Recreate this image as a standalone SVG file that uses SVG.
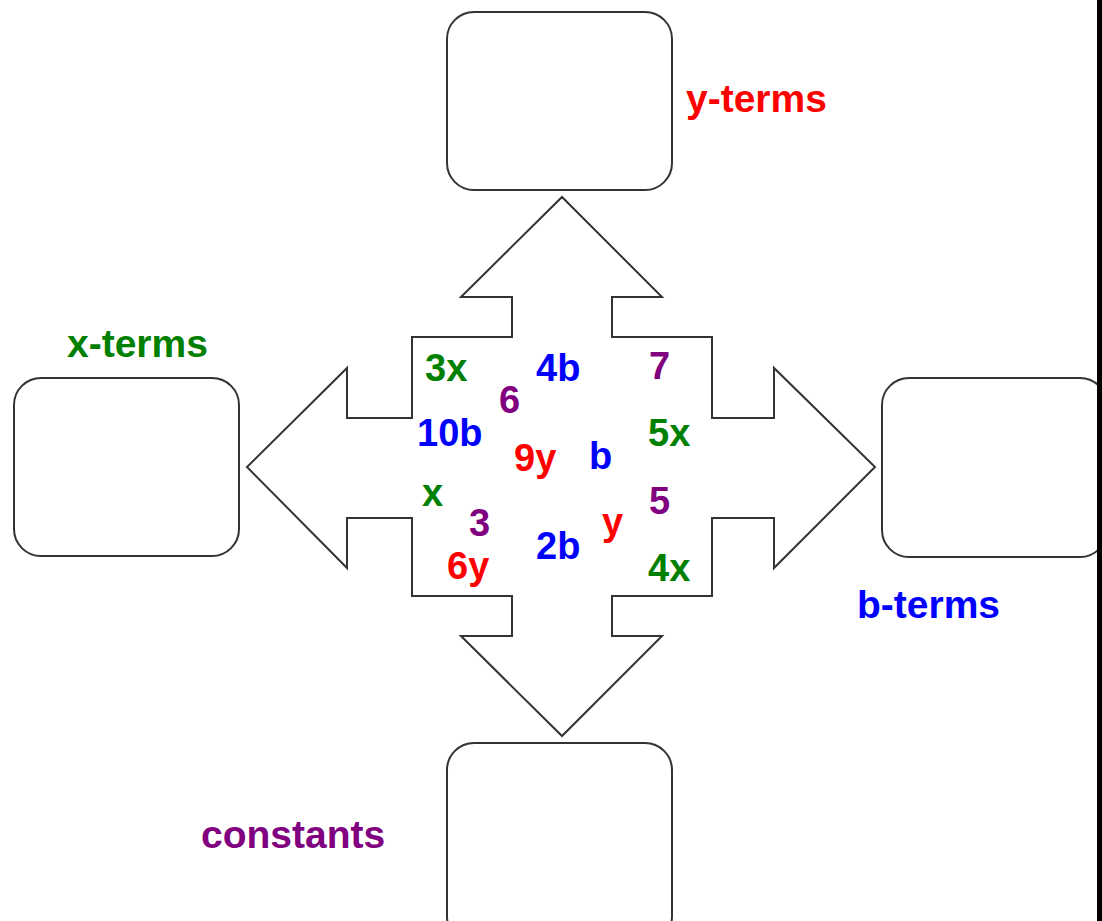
<svg xmlns="http://www.w3.org/2000/svg" width="1102" height="921" viewBox="0 0 1102 921">
<style>
.box{fill:#fff;stroke:#333;stroke-width:2}
.arrow{fill:#fff;stroke:#333;stroke-width:2;stroke-linejoin:miter}
text{font-family:"Liberation Sans",Arial,sans-serif;font-weight:bold;font-size:38px}
.lbl{font-size:39px}
.g{fill:#008000}.b{fill:#0000ff}.r{fill:#ff0000}.p{fill:#800080}
</style>
<rect width="1102" height="921" fill="#fff"/>
<g id="connectors">
<path class="arrow" d="M562,197 L662,297 L612,297 L612,337 L712,337 L712,418 L774,418 L774,368 L875,467 L774,568 L774,518 L712,518 L712,596 L612,596 L612,636 L662,636 L562,736 L461,636 L512,636 L512,596 L412,596 L412,518 L347,518 L347,568 L247,467 L347,368 L347,418 L412,418 L412,337 L512,337 L512,297 L461,297 Z"/>
</g>
<g id="node-y">
<rect class="box" x="447" y="12" width="225" height="178" rx="27"/>
<text class="lbl r" x="686" y="112">y-terms</text>
</g>
<g id="node-x">
<rect class="box" x="14" y="378" width="225" height="178" rx="27"/>
<text class="lbl g" x="67" y="357">x-terms</text>
</g>
<g id="node-b">
<rect class="box" x="882" y="378" width="225" height="179" rx="27"/>
<text class="lbl b" x="857" y="618">b-terms</text>
</g>
<g id="node-const">
<rect class="box" x="447" y="743" width="225" height="200" rx="27"/>
<text class="lbl p" x="201" y="848">constants</text>
</g>
<g id="terms">
<text class="g" x="425" y="381">3x</text>
<text class="b" x="536" y="381">4b</text>
<text class="p" x="649" y="379">7</text>
<text class="p" x="499" y="413">6</text>
<text class="b" x="417" y="446">10b</text>
<text class="g" x="648" y="446">5x</text>
<text class="r" x="514" y="471">9y</text>
<text class="b" x="589" y="469">b</text>
<text class="g" x="422" y="506">x</text>
<text class="p" x="649" y="514">5</text>
<text class="p" x="469" y="536">3</text>
<text class="r" x="602" y="535">y</text>
<text class="b" x="536" y="559">2b</text>
<text class="r" x="447" y="579">6y</text>
<text class="g" x="648" y="581">4x</text>
</g>
<rect x="1097" y="0" width="5" height="921" fill="#000"/>
</svg>
